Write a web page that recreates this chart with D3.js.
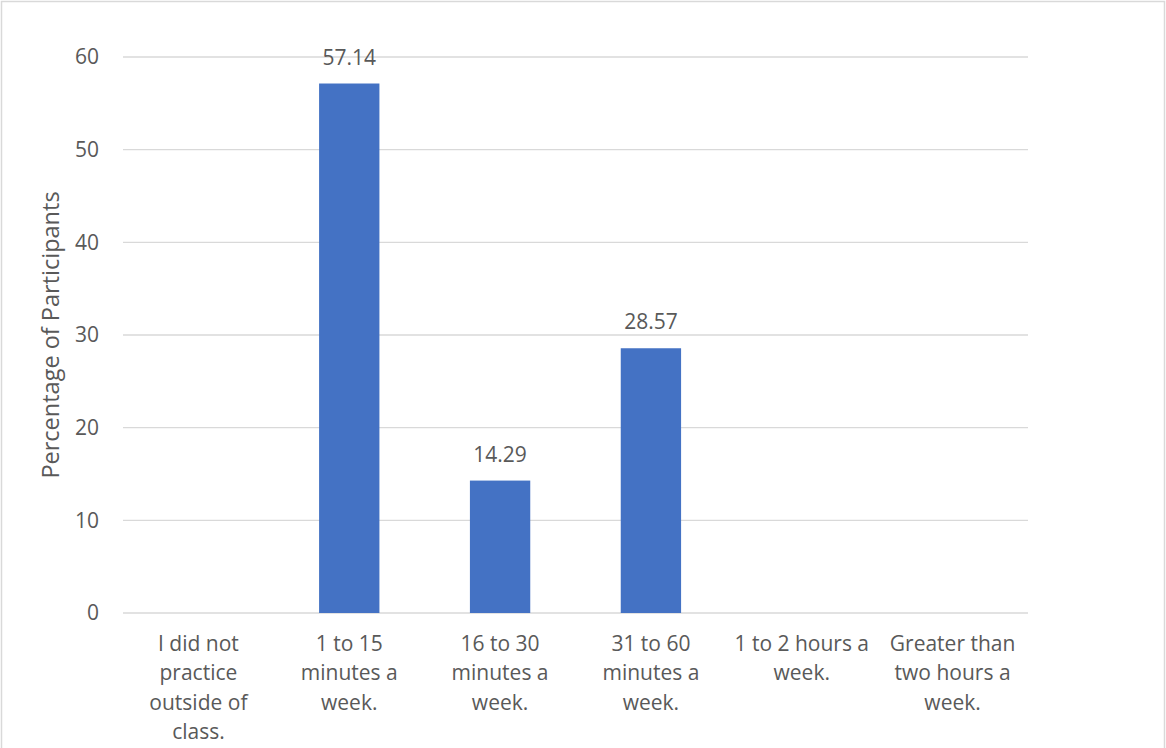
<!DOCTYPE html>
<html>
<head>
<meta charset="utf-8">
<script src="https://cdn.jsdelivr.net/npm/d3@7"></script>
<style>
  body { margin: 0; background: #fff; }
  text { font-family: "Open Sans", sans-serif; fill: #595959; }
</style>
</head>
<body>
<script>
const width = 1166;
const height = 748;

// data
const categories = [
    "I did not practice outside of class.",
    "1 to 15 minutes a week.",
    "16 to 30 minutes a week.",
    "31 to 60 minutes a week.",
    "1 to 2 hours a week.",
    "Greater than two hours a week."
];
const categoryLines = [
    ["I did not", "practice", "outside of", "class."],
    ["1 to 15", "minutes a", "week."],
    ["16 to 30", "minutes a", "week."],
    ["31 to 60", "minutes a", "week."],
    ["1 to 2 hours a", "week."],
    ["Greater than", "two hours a", "week."]
];
const values = [0, 57.14, 14.29, 28.57, 0, 0];
const yTicks = [0, 10, 20, 30, 40, 50, 60];

const svg = d3.select("body").append("svg")
    .attr("width", width)
    .attr("height", height);

// chart frame
svg.append("rect")
    .attr("x", 1.5).attr("y", 1.5)
    .attr("width", width - 3).attr("height", height + 10)
    .style("fill", "none")
    .style("stroke", "#d9d9d9")
    .style("stroke-width", 1.5);

const margin = {left: 123, right: 138, top: 57, bottom: 135};

const x = d3.scaleBand()
    .domain(categories)
    .range([margin.left, width - margin.right])
    .paddingInner(0.6)
    .paddingOuter(0.3);

const y = d3.scaleLinear()
    .domain([0, 60])
    .range([height - margin.bottom, margin.top]);

// gridlines
svg.append("g")
    .selectAll("line")
    .data(yTicks)
    .enter()
    .append("line")
    .attr("x1", margin.left)
    .attr("x2", width - margin.right)
    .attr("y1", d => y(d))
    .attr("y2", d => y(d))
    .style("stroke", "#d9d9d9")
    .style("stroke-width", 1.3);

// y axis labels
const yAxis = d3.axisLeft(y).tickValues(yTicks).tickSize(0).tickPadding(24);
const yg = svg.append("g")
    .attr("transform", `translate(${margin.left},0)`)
    .call(yAxis);
yg.select(".domain").remove();
yg.selectAll("text")
    .style("font-size", "21px")
    .style("fill", "#595959")
    .style("font-family", "'Open Sans', sans-serif");

// bars
svg.append("g")
    .selectAll("rect")
    .data(values)
    .enter()
    .append("rect")
    .attr("x", (d, i) => x(categories[i]))
    .attr("width", x.bandwidth())
    .attr("y", d => y(d))
    .attr("height", d => y(0) - y(d))
    .style("fill", "#4472c4");

// data labels
svg.append("g")
    .selectAll("text")
    .data(values.map((v, i) => ({v, i})).filter(d => d.v > 0))
    .enter()
    .append("text")
    .attr("x", d => x(categories[d.i]) + x.bandwidth() / 2)
    .attr("y", d => y(d.v) - 19)
    .style("text-anchor", "middle")
    .style("font-size", "21px")
    .text(d => d.v.toFixed(2));

// x category labels
const xl = svg.append("g")
    .selectAll("text")
    .data(categories)
    .enter()
    .append("text")
    .attr("x", d => x(d) + x.bandwidth() / 2)
    .attr("y", y(0) + 38)
    .style("text-anchor", "middle")
    .style("font-size", "21px");

xl.selectAll("tspan")
    .data((d, i) => categoryLines[i])
    .enter()
    .append("tspan")
    .attr("x", function() { return d3.select(this.parentNode).attr("x"); })
    .attr("dy", (d, i) => i === 0 ? 0 : 29.3)
    .text(d => d);

// y axis title
svg.append("text")
    .attr("transform", `translate(59, ${y(30)}) rotate(-90)`)
    .style("text-anchor", "middle")
    .style("font-size", "23.5px")
    .text("Percentage of Participants");
</script>
</body>
</html>
